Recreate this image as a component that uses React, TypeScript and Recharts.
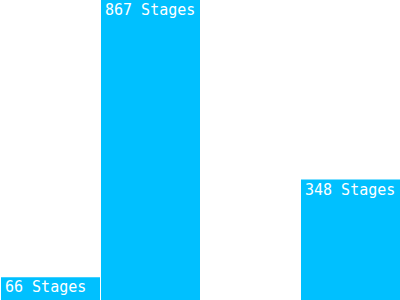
import React from "react";
import { BarChart, Bar, XAxis, YAxis, LabelList } from "recharts";

const categories = ["Stage A", "Stage B", "Stage C", "Stage D"];
const stageCounts: (number | null)[] = [66, 867, null, 348];
const unitLabel = "Stages";

const data = categories.map((name, i) => ({ name, value: stageCounts[i] }));

const BarLabel = (props: any) => {
  const { x, y, value } = props;
  if (value === null || value === undefined) return null;
  return (
    <text
      x={Number(x) + 4}
      y={Number(y) + 15}
      fill="#ffffff"
      fontFamily="'DejaVu Sans Mono', monospace"
      fontSize={15}
    >
      {`${value} ${unitLabel}`}
    </text>
  );
};

export default function App() {
  return (
    <div style={{ position: "absolute", left: 0, top: 0 }}>
      <BarChart
        width={400}
        height={300}
        data={data}
        margin={{ top: 0, right: 0, bottom: 0, left: 0 }}
        barCategoryGap={0}
      >
        <XAxis dataKey="name" hide />
        <YAxis hide domain={[0, 867]} />
        <Bar dataKey="value" fill="#00c0ff" barSize={99} isAnimationActive={false}>
          <LabelList dataKey="value" content={BarLabel} />
        </Bar>
      </BarChart>
    </div>
  );
}
